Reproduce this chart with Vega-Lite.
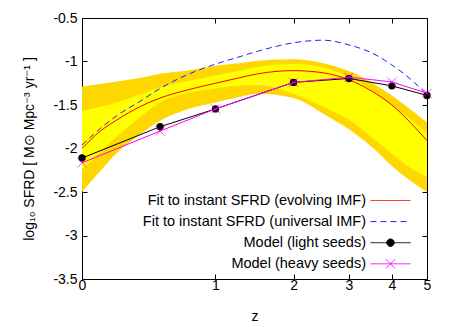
{
  "$schema": "https://vega.github.io/schema/vega-lite/v6.json",
  "width": 345,
  "height": 261,
  "autosize": {"type": "none"},
  "padding": {"left": 82, "top": 18, "right": 40, "bottom": 48},
  "background": "white",
  "config": {
    "view": {"stroke": "black", "strokeWidth": 1},
    "font": "Liberation Sans",
    "axis": {
      "grid": false, "domain": false, "labelFlush": false,
      "tickColor": "black", "tickSize": -5, "tickWidth": 1,
      "labelFont": "Liberation Sans", "labelFontSize": 14, "labelColor": "black",
      "titleFont": "Liberation Sans", "titleFontSize": 14, "titleFontWeight": "normal", "titleColor": "black"
    },
    "legend": {
      "labelFont": "Liberation Sans", "labelFontSize": 14.5, "labelColor": "black",
      "symbolStrokeWidth": 1, "labelLimit": 0, "gridAlign": "all"
    }
  },
  "datasets": {
    "band": [
      {"z": 0, "olo": -2.50, "ohi": -1.29, "ilo": -2.25, "ihi": -1.57},
      {"z": 0.1, "olo": -2.26, "ohi": -1.26, "ilo": -2.04, "ihi": -1.52},
      {"z": 0.2, "olo": -2.05, "ohi": -1.23, "ilo": -1.86, "ihi": -1.47},
      {"z": 0.35, "olo": -1.84, "ohi": -1.19, "ilo": -1.64, "ihi": -1.38},
      {"z": 0.5, "olo": -1.68, "ohi": -1.14, "ilo": -1.47, "ihi": -1.30},
      {"z": 0.75, "olo": -1.54, "ohi": -1.10, "ilo": -1.36, "ihi": -1.22},
      {"z": 1, "olo": -1.47, "ohi": -1.05, "ilo": -1.31, "ihi": -1.16},
      {"z": 1.25, "olo": -1.41, "ohi": -1.02, "ilo": -1.28, "ihi": -1.11},
      {"z": 1.5, "olo": -1.37, "ohi": -0.99, "ilo": -1.27, "ihi": -1.06},
      {"z": 2, "olo": -1.42, "ohi": -0.975, "ilo": -1.37, "ihi": -1.03},
      {"z": 2.5, "olo": -1.60, "ohi": -1.02, "ilo": -1.52, "ihi": -1.07},
      {"z": 3, "olo": -1.78, "ohi": -1.11, "ilo": -1.67, "ihi": -1.18},
      {"z": 3.5, "olo": -1.98, "ohi": -1.24, "ilo": -1.87, "ihi": -1.33},
      {"z": 4, "olo": -2.20, "ohi": -1.39, "ilo": -2.06, "ihi": -1.50},
      {"z": 4.5, "olo": -2.37, "ohi": -1.55, "ilo": -2.22, "ihi": -1.66},
      {"z": 5, "olo": -2.50, "ohi": -1.70, "ilo": -2.33, "ihi": -1.82}
    ],
    "curves": [
      {"series": "Fit to instant SFRD (evolving IMF)", "z": 0, "v": -2.00},
      {"series": "Fit to instant SFRD (evolving IMF)", "z": 0.1, "v": -1.80},
      {"series": "Fit to instant SFRD (evolving IMF)", "z": 0.2, "v": -1.67},
      {"series": "Fit to instant SFRD (evolving IMF)", "z": 0.35, "v": -1.52},
      {"series": "Fit to instant SFRD (evolving IMF)", "z": 0.5, "v": -1.42},
      {"series": "Fit to instant SFRD (evolving IMF)", "z": 0.75, "v": -1.32},
      {"series": "Fit to instant SFRD (evolving IMF)", "z": 1, "v": -1.25},
      {"series": "Fit to instant SFRD (evolving IMF)", "z": 1.25, "v": -1.19},
      {"series": "Fit to instant SFRD (evolving IMF)", "z": 1.5, "v": -1.14},
      {"series": "Fit to instant SFRD (evolving IMF)", "z": 2, "v": -1.105},
      {"series": "Fit to instant SFRD (evolving IMF)", "z": 2.5, "v": -1.13},
      {"series": "Fit to instant SFRD (evolving IMF)", "z": 3, "v": -1.21},
      {"series": "Fit to instant SFRD (evolving IMF)", "z": 3.5, "v": -1.34},
      {"series": "Fit to instant SFRD (evolving IMF)", "z": 4, "v": -1.50},
      {"series": "Fit to instant SFRD (evolving IMF)", "z": 4.5, "v": -1.70},
      {"series": "Fit to instant SFRD (evolving IMF)", "z": 5, "v": -1.91},
      {"series": "Fit to instant SFRD (universal IMF)", "z": 0, "v": -1.96},
      {"series": "Fit to instant SFRD (universal IMF)", "z": 0.1, "v": -1.77},
      {"series": "Fit to instant SFRD (universal IMF)", "z": 0.2, "v": -1.62},
      {"series": "Fit to instant SFRD (universal IMF)", "z": 0.35, "v": -1.46},
      {"series": "Fit to instant SFRD (universal IMF)", "z": 0.5, "v": -1.31},
      {"series": "Fit to instant SFRD (universal IMF)", "z": 0.75, "v": -1.14},
      {"series": "Fit to instant SFRD (universal IMF)", "z": 1, "v": -1.03},
      {"series": "Fit to instant SFRD (universal IMF)", "z": 1.25, "v": -0.95},
      {"series": "Fit to instant SFRD (universal IMF)", "z": 1.5, "v": -0.88},
      {"series": "Fit to instant SFRD (universal IMF)", "z": 2, "v": -0.785},
      {"series": "Fit to instant SFRD (universal IMF)", "z": 2.5, "v": -0.755},
      {"series": "Fit to instant SFRD (universal IMF)", "z": 3, "v": -0.81},
      {"series": "Fit to instant SFRD (universal IMF)", "z": 3.5, "v": -0.90},
      {"series": "Fit to instant SFRD (universal IMF)", "z": 4, "v": -1.04},
      {"series": "Fit to instant SFRD (universal IMF)", "z": 4.5, "v": -1.20},
      {"series": "Fit to instant SFRD (universal IMF)", "z": 5, "v": -1.38},
      {"series": "Model (light seeds)", "z": 0, "v": -2.11},
      {"series": "Model (light seeds)", "z": 0.5, "v": -1.75},
      {"series": "Model (light seeds)", "z": 1, "v": -1.545},
      {"series": "Model (light seeds)", "z": 2, "v": -1.24},
      {"series": "Model (light seeds)", "z": 3, "v": -1.195},
      {"series": "Model (light seeds)", "z": 4, "v": -1.28},
      {"series": "Model (light seeds)", "z": 5, "v": -1.39},
      {"series": "Model (heavy seeds)", "z": 0, "v": -2.165},
      {"series": "Model (heavy seeds)", "z": 0.5, "v": -1.80},
      {"series": "Model (heavy seeds)", "z": 1, "v": -1.545},
      {"series": "Model (heavy seeds)", "z": 2, "v": -1.24},
      {"series": "Model (heavy seeds)", "z": 3, "v": -1.18},
      {"series": "Model (heavy seeds)", "z": 4, "v": -1.235},
      {"series": "Model (heavy seeds)", "z": 5, "v": -1.365}
    ]
  },
  "layer": [
    {
      "data": {"name": "band"},
      "mark": {"type": "area", "color": "#FFD700", "interpolate": "monotone"},
      "encoding": {
        "x": {"field": "z", "type": "quantitative",
              "scale": {"type": "symlog", "constant": 1, "domain": [0, 5], "nice": false},
              "axis": {"orient": "bottom", "values": [0, 1, 2, 3, 4, 5], "format": "d", "title": "z", "labelPadding": 4, "titlePadding": 17}},
        "y": {"field": "olo", "type": "quantitative",
              "scale": {"domain": [-3.5, -0.5], "nice": false, "zero": false},
              "axis": {"orient": "left", "values": [-3.5, -3, -2.5, -2, -1.5, -1, -0.5], "labelExpr": "toString(datum.value)", "labelPadding": 10, "titlePadding": 16,
                       "title": "log₁₀ SFRD [ M⊙ Mpc⁻³ yr⁻¹ ]"}},
        "y2": {"field": "ohi"}
      }
    },
    {
      "data": {"name": "band"},
      "mark": {"type": "area", "color": "#FFFF00", "interpolate": "monotone"},
      "encoding": {
        "x": {"field": "z", "type": "quantitative",
              "axis": {"orient": "top", "values": [1, 2, 3, 4], "labels": false, "title": null}},
        "y": {"field": "ilo", "type": "quantitative",
              "axis": {"orient": "right", "values": [-3.5, -3, -2.5, -2, -1.5, -1, -0.5], "labels": false, "title": null}},
        "y2": {"field": "ihi"}
      }
    },
    {
      "data": {"name": "curves"},
      "transform": [{"filter": "datum.series == 'Fit to instant SFRD (evolving IMF)'"}],
      "mark": {"type": "line", "color": "#FF0000", "strokeWidth": 1, "interpolate": "monotone"},
      "encoding": {
        "x": {"field": "z", "type": "quantitative", "axis": null},
        "y": {"field": "v", "type": "quantitative", "axis": null}
      }
    },
    {
      "data": {"name": "curves"},
      "transform": [{"filter": "datum.series == 'Fit to instant SFRD (universal IMF)'"}],
      "mark": {"type": "line", "color": "#2020FF", "strokeWidth": 1, "strokeDash": [6, 4], "interpolate": "monotone"},
      "encoding": {
        "x": {"field": "z", "type": "quantitative", "axis": null},
        "y": {"field": "v", "type": "quantitative", "axis": null}
      }
    },
    {
      "data": {"name": "curves"},
      "transform": [{"filter": "datum.series == 'Model (light seeds)'"}],
      "mark": {"type": "line", "color": "#000000", "strokeWidth": 1, "point": {"filled": true, "size": 55, "color": "#000000"}},
      "encoding": {
        "x": {"field": "z", "type": "quantitative", "axis": null},
        "y": {"field": "v", "type": "quantitative", "axis": null}
      }
    },
    {
      "data": {"name": "curves"},
      "transform": [{"filter": "datum.series == 'Model (heavy seeds)'"}],
      "mark": {"type": "line", "color": "#FF00FF", "strokeWidth": 1},
      "encoding": {
        "x": {"field": "z", "type": "quantitative", "axis": null},
        "y": {"field": "v", "type": "quantitative", "axis": null}
      }
    },
    {
      "data": {"name": "curves"},
      "transform": [{"filter": "datum.series == 'Model (heavy seeds)'"}],
      "mark": {"type": "point", "shape": "M-1,-1L1,1M-1,1L1,-1", "size": 81, "stroke": "#FF00FF", "strokeWidth": 1, "filled": false},
      "encoding": {
        "x": {"field": "z", "type": "quantitative", "axis": null},
        "y": {"field": "v", "type": "quantitative", "axis": null}
      }
    },
    {
      "data": {"name": "curves"},
      "mark": {"type": "point", "opacity": 0, "filled": true, "strokeWidth": 1},
      "encoding": {
        "x": {"field": "z", "type": "quantitative", "axis": null},
        "y": {"field": "v", "type": "quantitative", "axis": null},
        "stroke": {"field": "series", "type": "nominal",
          "scale": {"domain": ["Fit to instant SFRD (evolving IMF)", "Fit to instant SFRD (universal IMF)", "Model (light seeds)", "Model (heavy seeds)"],
                    "range": ["#FF0000", "#2020FF", "#000000", "#FF00FF"]},
          "legend": {"orient": "none", "legendX": 298, "legendY": 172, "title": null, "labelAlign": "right", "labelOffset": -35, "symbolSize": 400, "rowPadding": 4.1, "padding": 0, "symbolStrokeWidth": 1, "labelLimit": 0, "gridAlign": "all",
                     "encode": {"symbols": {"update": {"fill": {"scale": "fill", "field": "value"}, "opacity": {"value": 1}}}}}},
        "fill": {"field": "series", "type": "nominal",
          "scale": {"domain": ["Fit to instant SFRD (evolving IMF)", "Fit to instant SFRD (universal IMF)", "Model (light seeds)", "Model (heavy seeds)"],
                    "range": ["transparent", "transparent", "#000000", "transparent"]},
          "legend": {"orient": "none", "legendX": 298, "legendY": 172, "title": null, "labelAlign": "right", "labelOffset": -35, "symbolSize": 400, "rowPadding": 4.1, "padding": 0, "symbolStrokeWidth": 1, "labelLimit": 0, "gridAlign": "all",
                     "encode": {"symbols": {"update": {"fill": {"scale": "fill", "field": "value"}, "opacity": {"value": 1}}}}}},
        "shape": {"field": "series", "type": "nominal",
          "scale": {"domain": ["Fit to instant SFRD (evolving IMF)", "Fit to instant SFRD (universal IMF)", "Model (light seeds)", "Model (heavy seeds)"],
                    "range": ["M-2,0H2", "M-2,0H2", "M-2,0H2M-0.37,0A0.37,0.37 0 1 0 0.37,0A0.37,0.37 0 1 0 -0.37,0", "M-2,0H2M-0.45,-0.45L0.45,0.45M-0.45,0.45L0.45,-0.45"]},
          "legend": {"orient": "none", "legendX": 298, "legendY": 172, "title": null, "labelAlign": "right", "labelOffset": -35, "symbolSize": 400, "rowPadding": 4.1, "padding": 0, "symbolStrokeWidth": 1, "labelLimit": 0, "gridAlign": "all",
                     "encode": {"symbols": {"update": {"fill": {"scale": "fill", "field": "value"}, "opacity": {"value": 1}}}}}},
        "strokeDash": {"field": "series", "type": "nominal",
          "scale": {"domain": ["Fit to instant SFRD (evolving IMF)", "Fit to instant SFRD (universal IMF)", "Model (light seeds)", "Model (heavy seeds)"],
                    "range": [[1, 0], [6, 4], [1, 0], [1, 0]]},
          "legend": {"orient": "none", "legendX": 298, "legendY": 172, "title": null, "labelAlign": "right", "labelOffset": -35, "symbolSize": 400, "rowPadding": 4.1, "padding": 0, "symbolStrokeWidth": 1, "labelLimit": 0, "gridAlign": "all",
                     "encode": {"symbols": {"update": {"fill": {"scale": "fill", "field": "value"}, "opacity": {"value": 1}}}}}}
      }
    }
  ],
  "resolve": {"axis": {"x": "independent", "y": "independent"}}
}
